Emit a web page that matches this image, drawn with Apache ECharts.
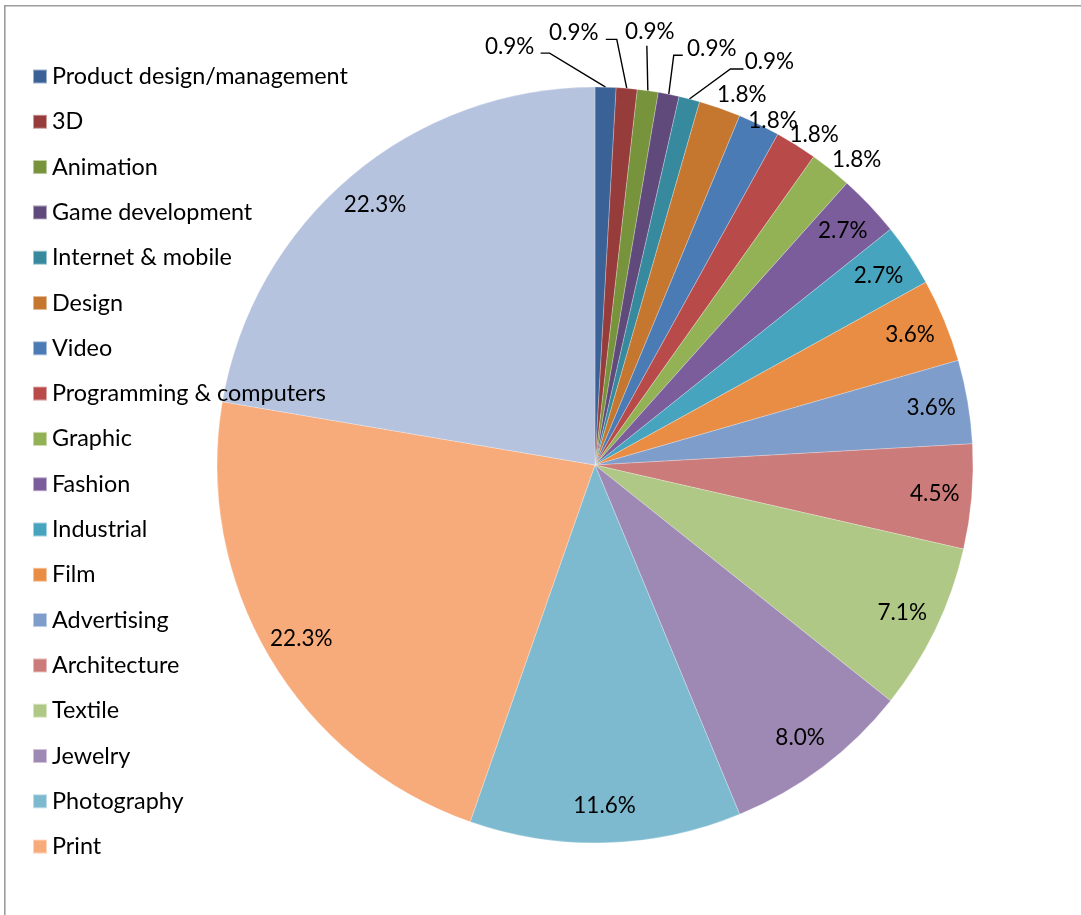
<!DOCTYPE html>
<html>
<head>
<meta charset="utf-8">
<title>Design fields</title>
<script src="https://cdn.jsdelivr.net/npm/echarts@6/dist/echarts.min.js"></script>
<style>
  html, body { margin: 0; padding: 0; background: #ffffff; }
  #chart { width: 1081px; height: 915px; }
</style>
</head>
<body>
<div id="chart"></div>
<script>
// Fields, in clockwise order starting at twelve o'clock
const categories = [
  'Product design/management', '3D', 'Animation', 'Game development',
  'Internet & mobile', 'Design', 'Video', 'Programming & computers',
  'Graphic', 'Fashion', 'Industrial', 'Film', 'Advertising',
  'Architecture', 'Textile', 'Jewelry', 'Photography', 'Print', 'Other'
];
// Number of responses per field (112 in total)
const counts = [1, 1, 1, 1, 1, 2, 2, 2, 2, 3, 3, 4, 4, 5, 8, 9, 13, 25, 25];
// Fields listed in the legend
const legendNames = categories.slice(0, 18);
// Slice colours
const colors = [
  '#3b6297', '#963c3b', '#77933c', '#604a7b', '#378a9e', '#c5762f',
  '#4a7bb5', '#b84b4a', '#93b256', '#7a5d9a', '#47a4be', '#ea8d44',
  '#7f9dcb', '#cb7b79', '#b0c885', '#9e89b5', '#7dbad0', '#f8ab7a',
  '#b6c3de'
];

const FONT = 'Lato';
const total = counts.reduce((a, b) => a + b, 0);
const pct = v => (v / total * 100).toFixed(1) + '%';

// Thin slices get their label outside the pie; offsets are measured from
// the point where the slice's mid-angle meets the rim.
const outsideLabels = [
  { dx: -96, dy: -40, line: [[-56, -34], [-65, -34]] },
  { dx: -53, dy: -56, line: [[-10, -49], [-21, -49]] },
  { dx: 2,   dy: -59, line: [[-1, -45], [-1, -45]] },
  { dx: 43,  dy: -46, line: [[5, -39], [14, -39]] },
  { dx: 80,  dy: -37, line: [[41, -30], [54, -30]] },
  { dx: 22,  dy: -13 },
  { dx: 14,  dy: -4 },
  { dx: 18,  dy: -10 },
  { dx: 26,  dy: -10 }
];
const nOutside = outsideLabels.length;

const center = [595, 465];
const outerR = 378;

const labelText = { color: '#000000', fontFamily: FONT, fontSize: 22.5 };

const sliceData = categories.map((name, i) => ({
  name: name,
  value: counts[i],
  itemStyle: { color: colors[i] },
  label: { show: i < nOutside },
  labelLine: {
    show: i < nOutside,
    lineStyle: { opacity: i < 5 ? 1 : 0 }
  }
}));

const innerLabelData = categories.map((name, i) => ({
  name: name,
  value: counts[i],
  label: { show: i >= nOutside }
}));

const chart = echarts.init(document.getElementById('chart'), null, { renderer: 'canvas' });

chart.setOption({
  backgroundColor: '#ffffff',
  animation: false,
  color: colors,
  graphic: [{
    type: 'rect',
    silent: true,
    shape: { x: 4.8, y: 5.8, width: 1300, height: 1100 },
    style: { fill: 'none', stroke: '#9c9c9c', lineWidth: 1.6 }
  }],
  legend: {
    orient: 'vertical',
    left: 32,
    top: 64.5,
    padding: 0,
    data: legendNames,
    icon: 'rect',
    itemWidth: 14,
    itemHeight: 14,
    itemGap: 21.3,
    selectedMode: false,
    textStyle: {
      color: '#000000',
      fontFamily: FONT,
      fontSize: 23.4,
      lineHeight: 24
    }
  },
  series: [
    {
      name: 'Fields',
      type: 'pie',
      center: center,
      radius: outerR,
      startAngle: 90,
      clockwise: true,
      avoidLabelOverlap: false,
      silent: true,
      data: sliceData,
      itemStyle: { borderColor: 'rgba(255,255,255,0.5)', borderWidth: 0.5 },
      label: Object.assign({
        position: 'outside',
        formatter: p => pct(p.value)
      }, labelText),
      labelLine: {
        length: 20,
        length2: 10,
        lineStyle: { color: '#000000', width: 1.4 }
      },
      labelLayout: function (p) {
        const o = outsideLabels[p.dataIndex];
        if (!o || !p.labelLinePoints) return {};
        const a = p.labelLinePoints[0];
        const res = {
          x: a[0] + o.dx,
          y: a[1] + o.dy,
          align: 'center',
          verticalAlign: 'middle'
        };
        res.labelLinePoints = o.line
          ? [a].concat(o.line.map(q => [a[0] + q[0], a[1] + q[1]]))
          : [a, a, a];
        return res;
      }
    },
    {
      // Transparent ring that carries the in-slice percentages near the rim
      name: 'Fields labels',
      type: 'pie',
      center: center,
      radius: [298, outerR],
      startAngle: 90,
      clockwise: true,
      silent: true,
      legendHoverLink: false,
      data: innerLabelData,
      itemStyle: { color: 'rgba(0,0,0,0)', borderWidth: 0 },
      label: Object.assign({
        position: 'inside',
        formatter: p => pct(p.value)
      }, labelText),
      labelLine: { show: false }
    }
  ]
});
</script>
</body>
</html>
